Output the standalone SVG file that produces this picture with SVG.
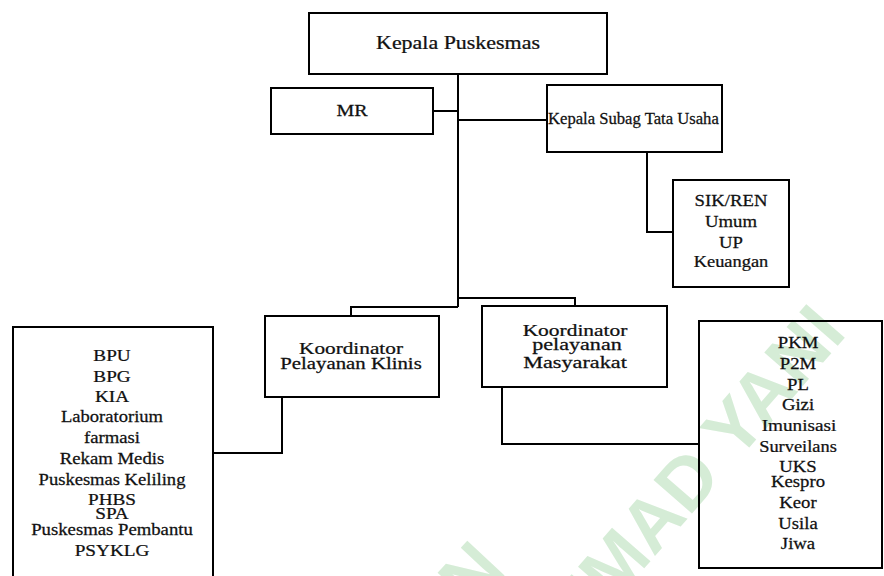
<svg xmlns="http://www.w3.org/2000/svg" width="884" height="576" viewBox="0 0 884 576">
<style>
  .bg { fill: #ffffff; }
  .box { fill: none; stroke: #000; stroke-width: 2; }
  .ln { fill: none; stroke: #000; stroke-width: 2; stroke-linejoin: miter; }
  .t { font-family: "Liberation Serif", "Times New Roman", Times, serif; font-size: 16px; fill: #111; stroke: #111; stroke-width: 0.25; text-anchor: middle; }
  .tl { font-family: "Liberation Serif", "Times New Roman", Times, serif; font-size: 16px; fill: #111; stroke: #111; stroke-width: 0.25; text-anchor: start; }
  .wm { font-family: "Liberation Sans", Arial, sans-serif; font-weight: bold; font-size: 74px; fill: #d5ecd6; text-anchor: end; }
</style>
<rect class="bg" x="0" y="0" width="884" height="576"/>
<g id="watermark">
  <text class="wm" transform="translate(508,572) rotate(-47)">AN</text>
  <text class="wm" transform="translate(848,334) rotate(-49)">ACHMAD YANI</text>
</g>
<g id="connectors">
  <path class="ln" d="M458,74 V307"/>
  <path class="ln" d="M433,111 H458"/>
  <path class="ln" d="M458,120 H547"/>
  <path class="ln" d="M647,152 V232 H673"/>
  <path class="ln" d="M458,298 H575 V306"/>
  <path class="ln" d="M458,307 H351 V316"/>
  <path class="ln" d="M282,397 V453 H213"/>
  <path class="ln" d="M502,387 V444 H699"/>
</g>
<g id="kepala-puskesmas" font-family="Liberation Serif, serif">
  <rect class="box" x="309" y="13" width="298" height="61"/>
  <text class="t" style="font-size:18px" transform="translate(458,49) scale(1.22,1)">Kepala Puskesmas</text>
</g>
<g id="mr" font-family="Liberation Serif, serif">
  <rect class="box" x="271" y="88" width="162" height="46"/>
  <text class="t" transform="translate(352,116) scale(1.25,1)">MR</text>
</g>
<g id="kepala-subag" font-family="Liberation Serif, serif">
  <rect class="box" x="547" y="85" width="175" height="67"/>
  <text class="tl" transform="translate(548,124) scale(1.04,1)">Kepala Subag Tata Usaha</text>
</g>
<g id="tata-usaha-unit" font-family="Liberation Serif, serif">
  <rect class="box" x="673" y="180" width="116" height="107"/>
  <text class="t" transform="translate(731,206) scale(1.17,1)">SIK/REN</text>
  <text class="t" transform="translate(731,227) scale(1.17,1)">Umum</text>
  <text class="t" transform="translate(731,248) scale(1.17,1)">UP</text>
  <text class="t" transform="translate(731,267) scale(1.15,1)">Keuangan</text>
</g>
<g id="koordinator-klinis" font-family="Liberation Serif, serif">
  <rect class="box" x="265" y="316" width="174" height="81"/>
  <text class="t" transform="translate(351,354) scale(1.33,1)">Koordinator</text>
  <text class="t" transform="translate(351,369) scale(1.3,1)">Pelayanan Klinis</text>
</g>
<g id="koordinator-masyarakat" font-family="Liberation Serif, serif">
  <rect class="box" x="482" y="306" width="185" height="81"/>
  <text class="t" transform="translate(575,336) scale(1.34,1)">Koordinator</text>
  <text class="t" transform="translate(577,350) scale(1.38,1)">pelayanan</text>
  <text class="t" transform="translate(575,368) scale(1.39,1)">Masyarakat</text>
</g>
<g id="unit-klinis" font-family="Liberation Serif, serif">
  <rect class="box" x="13" y="327" width="200" height="280"/>
  <text class="t" transform="translate(112,361) scale(1.2,1)">BPU</text>
  <text class="t" transform="translate(112,382) scale(1.2,1)">BPG</text>
  <text class="t" transform="translate(112,402) scale(1.2,1)">KIA</text>
  <text class="t" transform="translate(112,422) scale(1.16,1)">Laboratorium</text>
  <text class="t" transform="translate(112,443) scale(1.17,1)">farmasi</text>
  <text class="t" transform="translate(112,464) scale(1.17,1)">Rekam Medis</text>
  <text class="t" transform="translate(112,485) scale(1.16,1)">Puskesmas Keliling</text>
  <text class="t" transform="translate(112,505) scale(1.2,1)">PHBS</text>
  <text class="t" transform="translate(112,519) scale(1.2,1)">SPA</text>
  <text class="t" transform="translate(112,535) scale(1.17,1)">Puskesmas Pembantu</text>
  <text class="t" transform="translate(112,556) scale(1.2,1)">PSYKLG</text>
</g>
<g id="unit-masyarakat" font-family="Liberation Serif, serif">
  <rect class="box" x="699" y="321" width="183" height="247"/>
  <text class="t" transform="translate(798,348) scale(1.17,1)">PKM</text>
  <text class="t" transform="translate(798,369) scale(1.17,1)">P2M</text>
  <text class="t" transform="translate(798,390) scale(1.17,1)">PL</text>
  <text class="t" transform="translate(798,410) scale(1.17,1)">Gizi</text>
  <text class="t" transform="translate(799,431) scale(1.2,1)">Imunisasi</text>
  <text class="t" transform="translate(798,452) scale(1.15,1)">Surveilans</text>
  <text class="t" transform="translate(798,472) scale(1.17,1)">UKS</text>
  <text class="t" transform="translate(798,487) scale(1.17,1)">Kespro</text>
  <text class="t" transform="translate(798,508) scale(1.17,1)">Keor</text>
  <text class="t" transform="translate(798,529) scale(1.17,1)">Usila</text>
  <text class="t" transform="translate(798,549) scale(1.17,1)">Jiwa</text>
</g>
</svg>
